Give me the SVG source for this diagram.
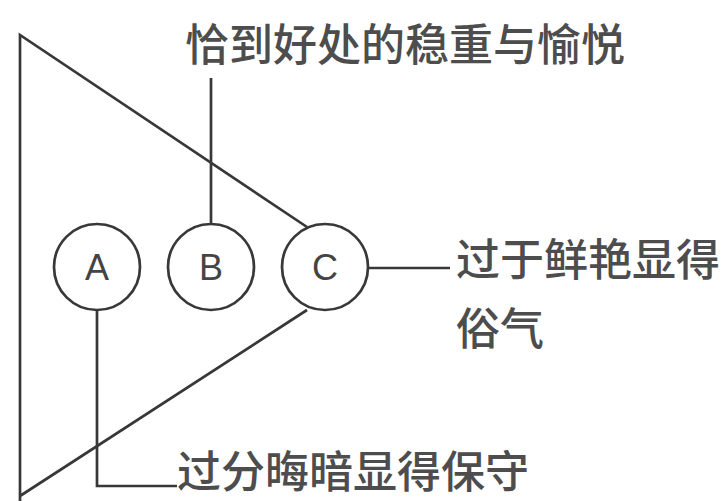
<svg xmlns="http://www.w3.org/2000/svg" width="723" height="501" viewBox="0 0 723 501">
<style>
.ln{fill:none;stroke:#383838;stroke-width:2.7}
.c{fill:#fff;stroke:#383838;stroke-width:2.7}
.lt{font-family:"Liberation Sans",Arial,sans-serif;font-size:36px;fill:#444;text-anchor:middle}
.t{font-family:"Noto Sans CJK SC","Noto Sans",sans-serif;font-size:44px;font-weight:500;fill:#4d4d4d}
</style>
<rect width="723" height="501" fill="#fff"/>
<g id="triangle">
<path class="ln" d="M307,227 L20,35 L20,501 M20,496 L307,310"/>
</g>
<g id="connectors">
<path class="ln" d="M211,223 V78"/>
<path class="ln" d="M368,268 H450"/>
<path class="ln" d="M97,311 V486 H177"/>
</g>
<g id="nodeA"><circle class="c" cx="97" cy="267" r="43"/><text class="lt" x="97" y="280">A</text></g>
<g id="nodeB"><circle class="c" cx="211" cy="267" r="43"/><text class="lt" x="211" y="280">B</text></g>
<g id="nodeC"><circle class="c" cx="325" cy="267" r="43"/><text class="lt" x="325" y="280">C</text></g>
<g id="labelTop"><text class="t" x="185" y="61">恰到好处的稳重与愉悦</text></g>
<g id="labelRight"><text class="t" x="456" y="276">过于鲜艳显得</text><text class="t" x="456" y="345">俗气</text></g>
<g id="labelBottom"><text class="t" x="177" y="488">过分晦暗显得保守</text></g>
</svg>
